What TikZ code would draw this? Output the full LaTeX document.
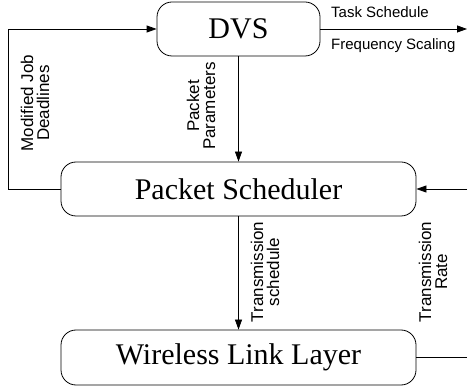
\documentclass[tikz,border=0pt]{standalone}
\usepackage{fontspec}
\setmainfont{Liberation Serif}
\setsansfont{Liberation Sans}
\usetikzlibrary{arrows.meta}
\begin{document}
\begin{tikzpicture}[x=1pt,y=1pt,
  box/.style={draw,line width=0.8pt,rounded corners=15pt,inner sep=0pt,font=\fontsize{30}{34}\selectfont},
  conn/.style={line width=0.8pt,-{Triangle[length=10pt,width=7pt]}},
  plain/.style={line width=0.8pt},
  lbl/.style={font=\sffamily\fontsize{15}{15}\selectfont,inner sep=0pt},
  rlbl/.style={font=\sffamily\fontsize{17}{16}\selectfont,inner sep=0pt,align=center,rotate=90}]
\useasboundingbox (0,0) rectangle (468,388);
\node[box,minimum width=163pt,minimum height=54pt] (dvs) at (238.5,359) {DVS};
\node[box,minimum width=355pt,minimum height=54pt] (ps) at (238.5,199) {Packet Scheduler};
\node[box,minimum width=355pt,minimum height=55pt] (wll) at (238.5,30.5) {Wireless Link Layer};
\coordinate (outR) at (467,359);
\coordinate (inR) at (467,199);
\coordinate (wR) at (467,30.5);
\coordinate (lb) at (8,199);
\coordinate (lt) at (8,359);
\draw[conn] (ps.west) -- (lb) -- (lt) -- (dvs.west);
\draw[conn] (dvs.east) -- (outR);
\draw[conn] (dvs.south) -- (ps.north);
\draw[conn] (ps.south) -- (wll.north);
\draw[conn] (inR) -- (ps.east);
\draw[plain] (wll.east) -- (wR);
\node[lbl,anchor=west] (ts) at (331,376) {Task Schedule};
\node[lbl,anchor=west] (fs) at (331,342) {Frequency Scaling};
\node[rlbl] (mjd) at (35,285) {Modified Job\\Deadlines};
\node[rlbl] (pp) at (201,282) {Packet\\Parameters};
\node[rlbl] (tsch) at (265,116) {Transmission\\schedule};
\node[rlbl] (tr) at (433,116) {Transmission\\Rate};
\end{tikzpicture}
\end{document}
